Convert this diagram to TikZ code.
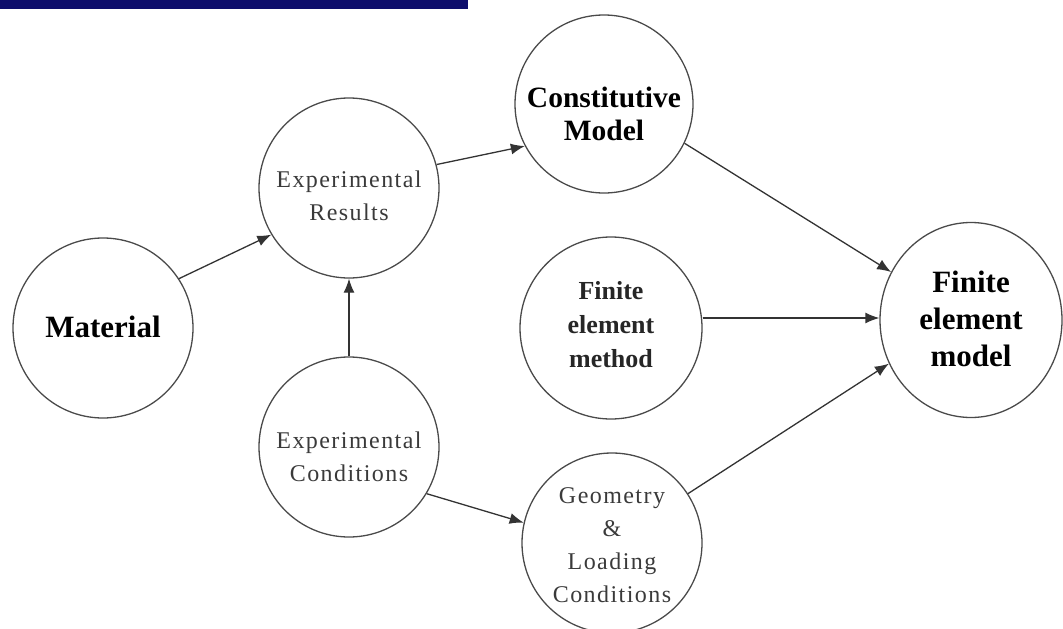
\documentclass[tikz,border=0pt]{standalone}
\usepackage{fontspec}
\setmainfont{Liberation Serif}
\newfontfamily\spacedf[LetterSpace=6]{Liberation Serif}
\usetikzlibrary{arrows.meta,shapes.geometric}
\definecolor{navybar}{HTML}{0E0E6C}
\definecolor{ringgray}{HTML}{4A4A4A}
\definecolor{txtgray}{HTML}{3A3A3A}
\tikzset{
  ring/.style={draw=ringgray, line width=1.3pt, circle, minimum size=#1, inner sep=0pt},
  bigtxt/.style={font=\fontsize{31}{37}\selectfont\bfseries, align=center, text=black, inner sep=0pt},
  midtxt/.style={font=\fontsize{29.5}{33}\selectfont\bfseries, align=center, text=black, inner sep=0pt},
  methtxt/.style={font=\fontsize{26}{34}\selectfont\bfseries, align=center, text=black!85, inner sep=0pt},
  smalltxt/.style={font=\spacedf\fontsize{24}{33}\selectfont, align=center, text=txtgray, inner sep=0pt},
  link/.style={draw=black!80, line width=1.3pt, -{Latex[length=14pt,width=11pt]}}
}
\begin{document}
\begin{tikzpicture}[x=1pt,y=-1pt]
\useasboundingbox[clip] (0,0) rectangle (1063,629);
\fill[navybar] (0,0) rectangle (468,9);

\node[ring=180pt] (mat) at (103,328) {};
\node[ring=180pt] (er) at (349,188) {};
\node[ring=178pt] (cm) at (604,104) {};
\node[ring=182pt] (meth) at (611,328) {};
\node[draw=ringgray, line width=1.3pt, ellipse, minimum width=182pt, minimum height=195pt, inner sep=0pt] (model) at (971,320) {};
\node[ring=180pt] (ec) at (349,447) {};
\node[ring=180pt] (geo) at (612,543) {};

\node[bigtxt] (matT) at (103,327) {Material};
\node[smalltxt] (erT) at (349,196) {Experimental\\Results};
\node[midtxt] (cmT) at (604,114) {Constitutive\\Model};
\node[methtxt] (methT) at (611,325) {Finite\\element\\method};
\node[bigtxt] (modelT) at (971,319) {Finite\\element\\model};
\node[smalltxt] (ecT) at (349,457) {Experimental\\Conditions};
\node[smalltxt] (geoT) at (612,545) {Geometry\\\&\\Loading\\Conditions};

\draw[link] (mat.33) -- (er.211);
\draw[link] (ec.north) -- (er.south);
\draw[link] (er.15) -- (cm.208);
\draw[link] (cm.-26) -- (model.149);
\draw[link] (meth.east |- 0,318) -- (model.west |- 0,318);
\draw[link] (geo.33) -- (model.208);
\draw[link] (ec.-31) -- (geo.167);
\end{tikzpicture}
\end{document}
